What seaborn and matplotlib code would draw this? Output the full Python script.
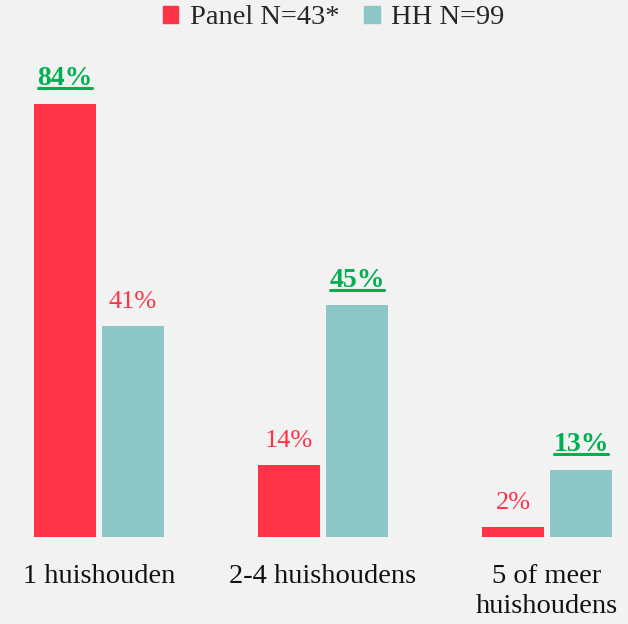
import matplotlib
matplotlib.use("Agg")
import matplotlib.pyplot as plt
import seaborn as sns
import pandas as pd
from matplotlib.lines import Line2D

categories = ["1 huishouden", "2-4 huishoudens", "5 of meer\nhuishoudens"]
series_names = ["Panel N=43*", "HH N=99"]
panel_values = [84, 14, 2]
hh_values = [41, 45, 13]

RED = "#FF3347"
TEAL = "#8CC6C7"
GREEN = "#00B050"
BG = "#F2F2F2"

df = pd.DataFrame({
    "cat": categories * 2,
    "series": [series_names[0]] * 3 + [series_names[1]] * 3,
    "value": panel_values + hh_values,
})

sns.set_theme(style="white")
plt.rcParams["font.family"] = ["Liberation Serif", "DejaVu Serif"]

W, H = 628, 624
fig = plt.figure(figsize=(W / 100, H / 100), dpi=100, facecolor=BG)
base_px = 537
top_px = 40
ax = fig.add_axes([0, 1 - base_px / H, 1, (base_px - top_px) / H])
ax.set_facecolor(BG)

sns.barplot(data=df, x="cat", y="value", hue="series", order=categories,
            hue_order=series_names, palette=[RED, TEAL], width=0.607, gap=0.09,
            ax=ax, legend=False, saturation=1, linewidth=0, edgecolor="none")

px_per = 5.155
ax.set_ylim(0, (base_px - top_px) / px_per)
ax.set_xlim(-99 / 224, (628 - 99) / 224)
for s in ax.spines.values():
    s.set_visible(False)
ax.set_ylabel("")
ax.set_xlabel("")
ax.set_yticks([])
ax.tick_params(axis="x", length=0, pad=19.5, labelsize=20.5, colors="#111111")
for t in ax.get_xticklabels():
    t.set_linespacing(1.25)

texts = []
for i, cat in enumerate(categories):
    pv, hv = panel_values[i], hh_values[i]
    for j, (v, other) in enumerate([(pv, hv), (hv, pv)]):
        x = i + (-0.152 if j == 0 else 0.152)
        hi = v > other
        t = ax.annotate(f"{v}%", (x, v), xytext=(0, 9), textcoords="offset points",
                        ha="center", va="bottom", fontsize=20 if hi else 19,
                        color=GREEN if hi else RED,
                        fontweight="bold" if hi else "normal")
        if hi:
            texts.append(t)

# legend
handles = [plt.Rectangle((0, 0), 1, 1, color=c) for c in [RED, TEAL]]
fig.legend(handles, series_names, loc="center", bbox_to_anchor=(0.531, 1 - 18 / H),
           ncol=2, frameon=False, fontsize=20.5, handlelength=0.55, handleheight=0.55,
           handletextpad=0.4, columnspacing=0.87, borderaxespad=0)

fig.canvas.draw()
r = fig.canvas.get_renderer()
for t in texts:
    bb = t.get_window_extent(r)
    y = bb.y0 + 3
    fig.add_artist(Line2D([bb.x0 + 1, bb.x1 - 1], [y, y], transform=None,
                          color=GREEN, lw=2.2))

fig.savefig("out.png", dpi=100, facecolor=BG)
